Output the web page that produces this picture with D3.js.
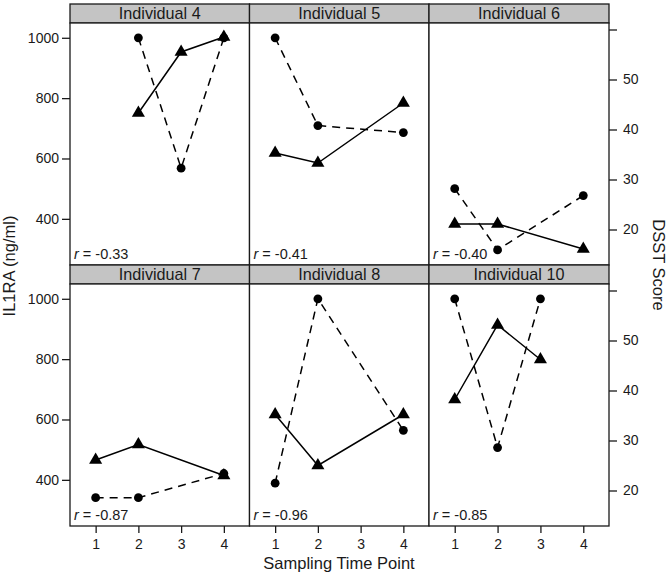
<!DOCTYPE html>
<html>
<head>
<meta charset="utf-8">
<script src="https://cdn.jsdelivr.net/npm/d3@7"></script>
<style>
  html, body { margin: 0; padding: 0; background: #fff; }
  svg { display: block; font-family: "Liberation Sans", Arial, sans-serif; }
</style>
</head>
<body>
<svg id="chart" width="671" height="577"></svg>
<script>
// ---- data ----
const individuals = ["Individual 4", "Individual 5", "Individual 6", "Individual 7", "Individual 8", "Individual 10"];
const timePoints = [[2, 3, 4], [1, 2, 4], [1, 2, 4], [1, 2, 4], [1, 2, 4], [1, 2, 3]];
const il1ra = [[1000, 568, 1000], [1000, 709, 686], [500, 297, 477], [341, 341, 421], [389, 1000, 564], [1000, 507, 1000]];
const dsst = [[43.3, 55.5, 58.5], [35.3, 33.3, 45.3], [21.1, 21.1, 16.1], [26.1, 29.2, 23.0], [35.2, 25.0, 35.2], [38.2, 53.1, 46.2]];
const rValues = ["-0.33", "-0.41", "-0.40", "-0.87", "-0.96", "-0.85"];
const xTicks = [1, 2, 3, 4];
const leftTicks = [400, 600, 800, 1000];
const rightTicks = [20, 30, 40, 50, 60];

// ---- layout ----
const svg = d3.select("#chart");
const colX = [70, 249.5, 429, 609];
const rowTop = [4, 265];
const stripH = 19;
const plotH = 242;
const ink = "#1a1a1a";

const x = d3.scaleLinear().domain([0.4, 4.6]);
const yL = d3.scaleLinear().domain([247, 1049]);
const yR = d3.scaleLinear().domain([12.9, 61.3]);

individuals.forEach((name, i) => {
  const col = i % 3, row = Math.floor(i / 3);
  const x0 = colX[col], x1 = colX[col + 1];
  const sTop = rowTop[row], pTop = sTop + stripH, pBot = pTop + plotH;
  const xs = x.copy().range([x0, x1]);
  const yl = yL.copy().range([pBot, pTop]);
  const yr = yR.copy().range([pBot, pTop]);
  const g = svg.append("g");

  // strip
  g.append("rect").attr("x", x0).attr("y", sTop).attr("width", x1 - x0).attr("height", stripH)
    .attr("fill", "#c4c4c4").attr("stroke", ink).attr("stroke-width", 1.3);
  g.append("text").attr("x", (x0 + x1) / 2).attr("y", sTop + stripH / 2 + 5.8)
    .attr("text-anchor", "middle").attr("font-size", 16.2).attr("fill", ink).text(name);
  // panel
  g.append("rect").attr("x", x0).attr("y", pTop).attr("width", x1 - x0).attr("height", plotH)
    .attr("fill", "#fff").attr("stroke", ink).attr("stroke-width", 1.3);

  const t = timePoints[i];
  const cPts = t.map((tt, k) => [xs(tt), yl(il1ra[i][k])]);
  const tPts = t.map((tt, k) => [xs(tt), yr(dsst[i][k])]);
  const line = d3.line();
  g.append("path").attr("d", line(cPts)).attr("fill", "none").attr("stroke", "#000")
    .attr("stroke-width", 1.5).attr("stroke-dasharray", "8,6");
  g.append("path").attr("d", line(tPts)).attr("fill", "none").attr("stroke", "#000")
    .attr("stroke-width", 1.5);
  cPts.forEach(p => g.append("circle").attr("cx", p[0]).attr("cy", p[1]).attr("r", 4.4).attr("fill", "#000"));
  const tri = d3.symbol().type(d3.symbolTriangle).size(74);
  tPts.forEach(p => g.append("path").attr("d", tri()).attr("transform", `translate(${p[0]},${p[1]})`).attr("fill", "#000"));

  // r label
  const rt = g.append("text").attr("x", x0 + 4).attr("y", pBot - 6.5).attr("font-size", 14.5).attr("fill", ink);
  rt.append("tspan").attr("font-style", "italic").text("r");
  rt.append("tspan").text(" = " + rValues[i]);

  // axes
  if (col === 0) {
    const ax = svg.append("g").attr("transform", `translate(${x0},0)`)
      .call(d3.axisLeft(yl).tickValues(leftTicks).tickSize(8).tickPadding(3).tickFormat(d3.format("d")));
    styleAxis(ax);
  }
  if (col === 2) {
    const ax = svg.append("g").attr("transform", `translate(${x1},0)`)
      .call(d3.axisRight(yr).tickValues(rightTicks).tickSize(8).tickPadding(6)
        .tickFormat(d => d === 60 ? "" : d3.format("d")(d)));
    styleAxis(ax);
  }
  if (row === 1) {
    const ax = svg.append("g").attr("transform", `translate(0,${pBot})`)
      .call(d3.axisBottom(xs).tickValues(xTicks).tickSize(7).tickPadding(6).tickFormat(d3.format("d")));
    styleAxis(ax);
  }
});

function styleAxis(ax) {
  ax.select(".domain").remove();
  ax.selectAll(".tick line").attr("stroke", ink).attr("stroke-width", 1.3);
  ax.selectAll(".tick text").attr("fill", ink).attr("font-size", 14)
    .attr("font-family", "'Liberation Sans', Arial, sans-serif");
}

// axis titles
svg.append("text").attr("x", 339).attr("y", 569).attr("text-anchor", "middle")
  .attr("font-size", 16.5).attr("fill", ink).text("Sampling Time Point");
svg.append("text").attr("transform", "translate(15,266) rotate(-90)").attr("text-anchor", "middle")
  .attr("font-size", 16.5).attr("fill", ink).text("IL1RA (ng/ml)");
svg.append("text").attr("transform", "translate(653,265) rotate(90)").attr("text-anchor", "middle")
  .attr("font-size", 16.5).attr("fill", ink).text("DSST Score");
</script>
</body>
</html>
